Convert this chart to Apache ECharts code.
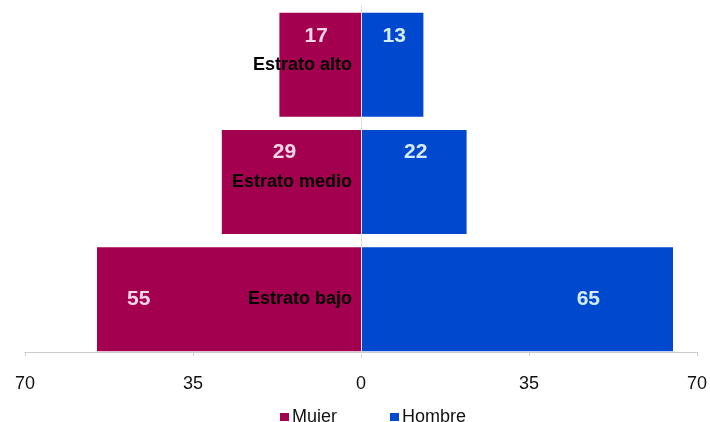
<!DOCTYPE html>
<html>
<head>
<meta charset="utf-8">
<script src="https://cdn.jsdelivr.net/npm/echarts@6/dist/echarts.min.js"></script>
<style>
html,body{margin:0;padding:0;background:#fff;}
#chart{width:710px;height:422px;}
</style>
</head>
<body>
<div id="chart"></div>
<script>
// categories bottom to top (category y axis starts at bottom)
var estratos = ['Estrato bajo', 'Estrato medio', 'Estrato alto'];
var mujer = [55, 29, 17];
var hombre = [65, 22, 13];
var xTicks = [-70, -35, 0, 35, 70];

var myChart = echarts.init(document.getElementById('chart'));

// label placement: bottom bar labels sit at mid height, others near the top
function labelFor(i, side) {
	if (i === 0) {
		return side === 'left'
			? { position: 'insideLeft', distance: 30, offset: [0, 0] }
			: { position: 'insideRight', distance: 73, offset: [0, 0] };
	}
	if (i === 1) {
		return { position: 'insideTop', distance: 12, offset: side === 'left' ? [-7, 0] : [2, 0] };
	}
	return { position: 'insideTop', distance: 13, offset: side === 'left' ? [-4, 0] : [2, 0] };
}

function seriesData(values, side, sign, color) {
	return values.map(function (v, i) {
		var l = labelFor(i, side);
		return {
			value: sign * v,
			label: {
				show: true,
				position: l.position,
				distance: l.distance,
				offset: l.offset,
				color: color,
				fontSize: 21,
				fontWeight: 'bold',
				formatter: function (p) { return Math.abs(p.value); }
			}
		};
	});
}

var option = {
	animation: false,
	textStyle: { fontFamily: 'Liberation Sans, Arial, sans-serif' },
	grid: { left: 25, right: 13, top: 6, bottom: 64, containLabel: false, outerBoundsMode: 'none' },
	legend: {
		top: 403,
		left: 275,
		itemWidth: 9,
		itemHeight: 8,
		itemGap: 53,
		icon: 'rect',
		textStyle: { fontSize: 18, color: '#111', padding: [0, 0, 0, -2] },
		data: ['Mujer', 'Hombre']
	},
	xAxis: {
		type: 'value',
		min: xTicks[0],
		max: xTicks[xTicks.length - 1],
		interval: 35,
		offset: -6,
		splitLine: { show: false },
		axisLine: { show: true, lineStyle: { color: '#cccccc' } },
		axisTick: { show: true, length: 4, lineStyle: { color: '#cccccc' } },
		axisLabel: {
			margin: 23,
			fontSize: 18,
			color: '#111',
			formatter: function (v) { return Math.abs(v); }
		}
	},
	yAxis: {
		type: 'category',
		data: estratos,
		z: 10,
		axisLine: { onZero: true, lineStyle: { color: '#dddddd' } },
		axisTick: { show: false },
		axisLabel: {
			margin: -327,
			fontSize: 18,
			fontWeight: 'bold',
			color: '#000'
		}
	},
	series: [
		{
			name: 'Mujer',
			type: 'bar',
			stack: 'total',
			barWidth: 104,
			itemStyle: { color: '#a3004f' },
			data: seriesData(mujer, 'left', -1, '#f6d6e6')
		},
		{
			name: 'Hombre',
			type: 'bar',
			stack: 'total',
			barWidth: 104,
			itemStyle: { color: '#0049cf' },
			data: seriesData(hombre, 'right', 1, '#d4ecff')
		}
	]
};

myChart.setOption(option);
</script>
</body>
</html>
